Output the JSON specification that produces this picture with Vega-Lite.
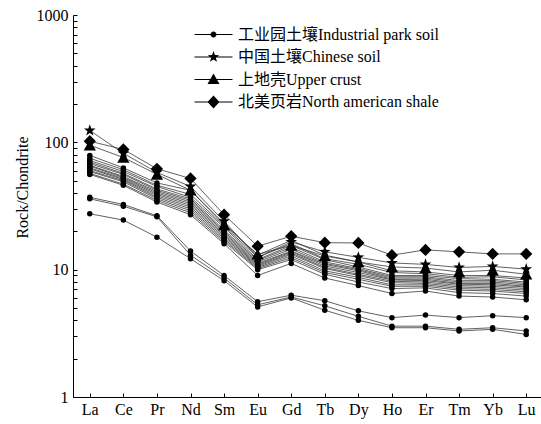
{
  "$schema": "https://vega.github.io/schema/vega-lite/v6.json",
  "width": 470,
  "height": 382,
  "autosize": {"type": "none"},
  "padding": {"left": 73, "top": 15, "right": 0, "bottom": 27},
  "background": "white",
  "config": {
    "font": "'Liberation Serif', 'Times New Roman', 'Noto Sans CJK SC', serif",
    "view": {"stroke": null},
    "axis": {
      "domainColor": "black",
      "domainWidth": 1,
      "tickColor": "black",
      "tickWidth": 1,
      "labelColor": "black",
      "labelFontSize": 16,
      "labelFont": "'Liberation Serif', 'Times New Roman', serif",
      "titleFont": "'Liberation Serif', 'Times New Roman', serif",
      "titleFontSize": 16,
      "titleFontWeight": "normal",
      "titleColor": "black",
      "grid": false
    }
  },
  "data": {
    "values": [
      {"id": "s1", "series": "工业园土壤Industrial park soil", "La": 79, "Ce": 63, "Pr": 48, "Nd": 42, "Sm": 23, "Eu": 13, "Gd": 17, "Tb": 13, "Dy": 11.5, "Ho": 9.8, "Er": 9.6, "Tm": 9.0, "Yb": 9.0, "Lu": 8.6},
      {"id": "s2", "series": "工业园土壤Industrial park soil", "La": 75, "Ce": 61, "Pr": 46, "Nd": 39, "Sm": 22, "Eu": 12.5, "Gd": 16, "Tb": 12.2, "Dy": 11, "Ho": 9.5, "Er": 9.3, "Tm": 8.7, "Yb": 8.8, "Lu": 8.3},
      {"id": "s3", "series": "工业园土壤Industrial park soil", "La": 72, "Ce": 59, "Pr": 45, "Nd": 37, "Sm": 21.5, "Eu": 12, "Gd": 15.5, "Tb": 12, "Dy": 10.5, "Ho": 9.0, "Er": 9.0, "Tm": 8.5, "Yb": 8.4, "Lu": 8.0},
      {"id": "s4", "series": "工业园土壤Industrial park soil", "La": 70, "Ce": 57, "Pr": 43, "Nd": 36, "Sm": 20.5, "Eu": 11.8, "Gd": 15, "Tb": 11.5, "Dy": 10.2, "Ho": 8.8, "Er": 8.8, "Tm": 8.2, "Yb": 8.2, "Lu": 7.8},
      {"id": "s5", "series": "工业园土壤Industrial park soil", "La": 68, "Ce": 56, "Pr": 42, "Nd": 35, "Sm": 20, "Eu": 11.5, "Gd": 14.5, "Tb": 11.2, "Dy": 10, "Ho": 8.6, "Er": 8.6, "Tm": 8.0, "Yb": 8.0, "Lu": 7.6},
      {"id": "s6", "series": "工业园土壤Industrial park soil", "La": 66, "Ce": 54, "Pr": 41, "Nd": 34, "Sm": 19.5, "Eu": 11.2, "Gd": 14, "Tb": 11, "Dy": 9.8, "Ho": 8.4, "Er": 8.4, "Tm": 7.8, "Yb": 7.8, "Lu": 7.4},
      {"id": "s7", "series": "工业园土壤Industrial park soil", "La": 65, "Ce": 53, "Pr": 40, "Nd": 33, "Sm": 19, "Eu": 11, "Gd": 13.8, "Tb": 10.7, "Dy": 9.5, "Ho": 8.3, "Er": 8.2, "Tm": 7.7, "Yb": 7.6, "Lu": 7.3},
      {"id": "s8", "series": "工业园土壤Industrial park soil", "La": 63, "Ce": 52, "Pr": 39, "Nd": 32, "Sm": 18.5, "Eu": 10.8, "Gd": 13.5, "Tb": 10.4, "Dy": 9.2, "Ho": 8.1, "Er": 8.0, "Tm": 7.5, "Yb": 7.4, "Lu": 7.1},
      {"id": "s9", "series": "工业园土壤Industrial park soil", "La": 62, "Ce": 51, "Pr": 38, "Nd": 31, "Sm": 18, "Eu": 10.6, "Gd": 13.2, "Tb": 10.2, "Dy": 9.0, "Ho": 7.9, "Er": 7.8, "Tm": 7.3, "Yb": 7.2, "Lu": 6.9},
      {"id": "s10", "series": "工业园土壤Industrial park soil", "La": 60, "Ce": 50, "Pr": 37, "Nd": 30, "Sm": 17.5, "Eu": 10.4, "Gd": 12.8, "Tb": 9.8, "Dy": 8.7, "Ho": 7.6, "Er": 7.6, "Tm": 7.1, "Yb": 7.0, "Lu": 6.7},
      {"id": "s11", "series": "工业园土壤Industrial park soil", "La": 59, "Ce": 49, "Pr": 36, "Nd": 29, "Sm": 17, "Eu": 10.2, "Gd": 12.4, "Tb": 9.5, "Dy": 8.4, "Ho": 7.4, "Er": 7.4, "Tm": 6.9, "Yb": 6.8, "Lu": 6.5},
      {"id": "s12", "series": "工业园土壤Industrial park soil", "La": 57, "Ce": 47, "Pr": 35, "Nd": 28, "Sm": 16.5, "Eu": 10, "Gd": 12, "Tb": 9.2, "Dy": 8.0, "Ho": 7.1, "Er": 7.2, "Tm": 6.6, "Yb": 6.5, "Lu": 6.2},
      {"id": "s13", "series": "工业园土壤Industrial park soil", "La": 56, "Ce": 46, "Pr": 34, "Nd": 27, "Sm": 16, "Eu": 9.0, "Gd": 11.2, "Tb": 8.6, "Dy": 7.5, "Ho": 6.5, "Er": 6.8, "Tm": 6.2, "Yb": 6.1, "Lu": 5.8},
      {"id": "s14", "series": "工业园土壤Industrial park soil", "La": 37, "Ce": 32.5, "Pr": 26.5, "Nd": 14, "Sm": 9.0, "Eu": 5.6, "Gd": 6.3, "Tb": 5.7, "Dy": 4.75, "Ho": 4.2, "Er": 4.4, "Tm": 4.2, "Yb": 4.35, "Lu": 4.2},
      {"id": "s15", "series": "工业园土壤Industrial park soil", "La": 36, "Ce": 31.5, "Pr": 26, "Nd": 13, "Sm": 8.6, "Eu": 5.3, "Gd": 6.1, "Tb": 5.2, "Dy": 4.3, "Ho": 3.6, "Er": 3.6, "Tm": 3.4, "Yb": 3.5, "Lu": 3.3},
      {"id": "s16", "series": "工业园土壤Industrial park soil", "La": 27.5, "Ce": 24.5, "Pr": 18, "Nd": 12.2, "Sm": 8.2, "Eu": 5.1, "Gd": 6.0, "Tb": 4.8, "Dy": 4.0, "Ho": 3.5, "Er": 3.5, "Tm": 3.3, "Yb": 3.4, "Lu": 3.1},
      {"id": "cs", "series": "中国土壤Chinese soil", "La": 124, "Ce": 82, "Pr": 58, "Nd": 45, "Sm": 24, "Eu": 12.5, "Gd": 16.5, "Tb": 13.8, "Dy": 12.5, "Ho": 11.3, "Er": 11, "Tm": 10.4, "Yb": 10.6, "Lu": 10.1},
      {"id": "uc", "series": "上地壳Upper crust", "La": 95, "Ce": 76, "Pr": 56, "Nd": 42, "Sm": 22.5, "Eu": 13.2, "Gd": 15.5, "Tb": 12.8, "Dy": 11.5, "Ho": 10.5, "Er": 10.3, "Tm": 9.6, "Yb": 9.9, "Lu": 9.2},
      {"id": "na", "series": "北美页岩North american shale", "La": 102, "Ce": 88, "Pr": 62, "Nd": 52, "Sm": 27, "Eu": 15.3, "Gd": 18.3, "Tb": 16.3, "Dy": 16.2, "Ho": 13, "Er": 14.3, "Tm": 13.8, "Yb": 13.3, "Lu": 13.3}
    ]
  },
  "transform": [
    {"fold": ["La", "Ce", "Pr", "Nd", "Sm", "Eu", "Gd", "Tb", "Dy", "Ho", "Er", "Tm", "Yb", "Lu"], "as": ["el", "v"]}
  ],
  "encoding": {
    "x": {
      "field": "el",
      "type": "nominal",
      "sort": ["La", "Ce", "Pr", "Nd", "Sm", "Eu", "Gd", "Tb", "Dy", "Ho", "Er", "Tm", "Yb", "Lu"],
      "scale": {"type": "point", "padding": 0.5},
      "axis": {"title": null, "labelAngle": 0, "tickSize": -4, "labelPadding": 8, "labelBaseline": "top"}
    },
    "y": {
      "field": "v",
      "type": "quantitative",
      "scale": {"type": "log", "domain": [1, 1000]},
      "axis": {
        "title": "Rock/Chondrite",
        "values": [1, 2, 3, 4, 5, 6, 7, 8, 9, 10, 20, 30, 40, 50, 60, 70, 80, 90, 100, 200, 300, 400, 500, 600, 700, 800, 900, 1000],
        "format": "d",
        "labelExpr": "(datum.value == 1 || datum.value == 10 || datum.value == 100 || datum.value == 1000) ? datum.label : ''",
        "labelOverlap": false,
        "labelBound": false,
        "tickSize": -4,
        "labelPadding": 9,
        "titlePadding": 6,
        "titleY": 172
      }
    }
  },
  "layer": [
    {
      "mark": {"type": "line", "stroke": "#3a3a3a", "strokeWidth": 0.8},
      "encoding": {"detail": {"field": "id", "type": "nominal"}, "order": {"value": null}}
    },
    {
      "mark": {"type": "point", "filled": true, "color": "black", "opacity": 1},
      "encoding": {
        "size": {"condition": {"test": "datum.series === '工业园土壤Industrial park soil'", "value": 30}, "value": 150},
        "shape": {
          "field": "series",
          "type": "nominal",
          "scale": {
            "domain": ["工业园土壤Industrial park soil", "中国土壤Chinese soil", "上地壳Upper crust", "北美页岩North american shale"],
            "range": ["circle", "M0,-1L0.235,-0.324L0.951,-0.309L0.38,0.124L0.588,0.809L0,0.4L-0.588,0.809L-0.38,0.124L-0.951,-0.309L-0.235,-0.324Z", "triangle-up", "diamond"]
          },
          "legend": null
        }
      }
    },
    {
      "mark": {"type": "point", "filled": true, "fill": "black", "stroke": "black", "strokeWidth": 1, "opacity": 0, "size": 400},
      "encoding": {
        "shape": {
          "field": "series",
          "type": "nominal",
          "scale": {
            "domain": ["工业园土壤Industrial park soil", "中国土壤Chinese soil", "上地壳Upper crust", "北美页岩North american shale"],
            "range": [
              "M-1.9,-0.05H1.9V0.05H-1.9ZM-0.3,0A0.3,0.3 0 1 1 0.3,0A0.3,0.3 0 1 1 -0.3,0Z",
              "M-1.9,-0.05H1.9V0.05H-1.9ZM0,-0.6L0.141,-0.194L0.571,-0.185L0.228,0.074L0.353,0.485L0,0.24L-0.353,0.485L-0.228,0.074L-0.571,-0.185L-0.141,-0.194Z",
              "M-1.9,-0.05H1.9V0.05H-1.9ZM0,-0.6L0.6,0.45L-0.6,0.45Z",
              "M-1.9,-0.05H1.9V0.05H-1.9ZM0,-0.65L0.6,0L0,0.65L-0.6,0Z"
            ]
          },
          "legend": {
            "title": null,
            "orient": "none",
            "legendX": 130,
            "legendY": 9,
            "padding": 0,
            "labelFontSize": 16,
            "labelFont": "'Liberation Serif', 'Times New Roman', 'Noto Sans CJK SC', serif",
            "labelColor": "black",
            "labelOffset": 14,
            "labelLimit": 400,
            "rowPadding": 3.5,
            "symbolSize": 400,
            "symbolOpacity": 1,
            "symbolStrokeColor": "black",
            "symbolStrokeWidth": 1,
            "symbolFillColor": "black"
          }
        }
      }
    }
  ],
  "resolve": {"scale": {"shape": "independent"}, "legend": {"shape": "independent"}}
}
